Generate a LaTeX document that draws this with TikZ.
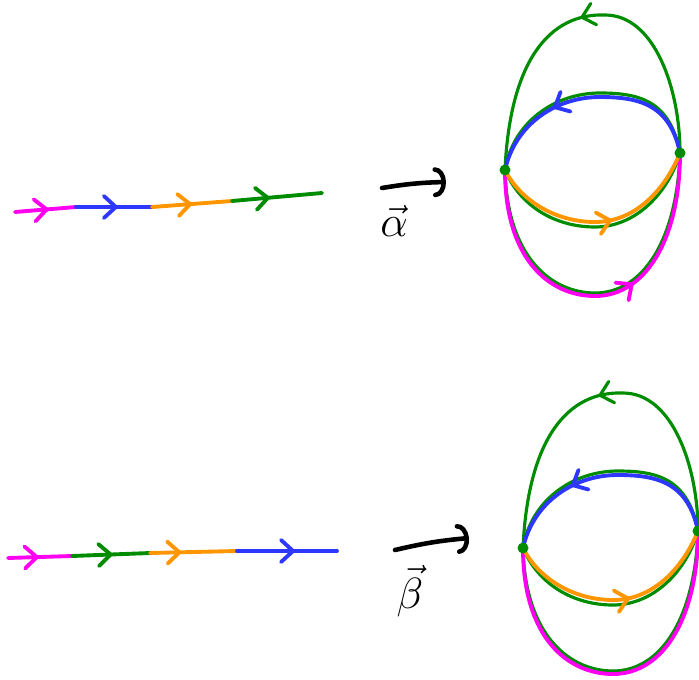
\documentclass[tikz,border=0pt]{standalone}
\usepackage{amsmath}
\usetikzlibrary{arrows.meta,decorations.markings}

\definecolor{pinkline}{RGB}{255,0,240}
\definecolor{blueline}{RGB}{45,55,255}
\definecolor{orangeline}{RGB}{255,150,0}
\definecolor{greenline}{RGB}{0,140,0}

\begin{document}
\begin{tikzpicture}[
  x=0.02cm, y=-0.02cm,
  strand/.style={line width=2.2pt, line cap=round},
  base/.style={line width=1.8pt, greenline, line cap=round},
  midarr/.style={postaction={decorate}, decoration={markings,
      mark=at position #1 with {\arrow{Straight Barb[length=2.4mm,width=4.4mm,round]}}}},
  maparr/.style={-{Arc Barb[length=2.2mm,width=6mm,round]}, line width=2.6pt, line cap=round},
  lbl/.style={font=\Huge},
]
\useasboundingbox (0,0) rectangle (699,679);

% top row: the path alpha
\coordinate (a0) at (15,212);
\coordinate (a1) at (76,207);
\coordinate (a2) at (152,207);
\coordinate (a3) at (232,201);
\coordinate (a4) at (322,193);
\draw[strand, pinkline, midarr=0.55] (a0) -- (a1);
\draw[strand, blueline, midarr=0.55] (a1) -- (a2);
\draw[strand, orangeline, midarr=0.5] (a2) -- (a3);
\draw[strand, greenline, midarr=0.42] (a3) -- (a4);

\coordinate (ma) at (382,188);
\coordinate (mb) at (446,182);
\draw[maparr] (ma) to[bend left=4] (mb);
\node[lbl] (alab) at (394,221) {$\vec{\alpha}$};

\begin{scope}
  \coordinate (tL) at (505,170);
  \coordinate (tR) at (680,153);
  % green underlay
  \draw[base, midarr=0.52] (tR) .. controls (680,90) and (655,15) .. (605,15)
    .. controls (550,13) and (510,60) .. (tL);
  \draw[base] (tL) .. controls (507,258) and (552,293) .. (595,293)
    .. controls (643,293) and (677,240) .. (tR);
  \draw[base] (tR) .. controls (670,101) and (640,93) .. (600,93)
    .. controls (555,93) and (513,122) .. (tL);
  \draw[base] (tL) .. controls (520,206) and (555,227) .. (595,227)
    .. controls (635,227) and (668,194) .. (tR);
  % coloured arcs
  \draw[strand, pinkline, midarr=0.6] (tL) .. controls (505,260) and (550,296) .. (595,296)
    .. controls (645,296) and (680,240) .. (tR);
  \draw[strand, blueline, midarr=0.66] (tR) .. controls (670,105) and (640,97) .. (600,97)
    .. controls (555,97) and (515,125) .. (tL);
  \draw[strand, orangeline, midarr=0.56] (tL) .. controls (520,200) and (555,222) .. (595,222)
    .. controls (635,222) and (665,190) .. (tR);
  \fill[greenline] (tL) circle (1.1mm);
  \fill[greenline] (tR) circle (1.1mm);
\end{scope}

% bottom row: the path beta
\coordinate (b0) at (8,558);
\coordinate (b1) at (72,556);
\coordinate (b2) at (150,553);
\coordinate (b3) at (237,551);
\coordinate (b4) at (337,551);
\draw[strand, pinkline, midarr=0.48] (b0) -- (b1);
\draw[strand, greenline, midarr=0.52] (b1) -- (b2);
\draw[strand, orangeline, midarr=0.36] (b2) -- (b3);
\draw[strand, blueline, midarr=0.58] (b3) -- (b4);

\coordinate (na) at (395,550);
\coordinate (nb) at (469,538);
\draw[maparr] (na) to[bend left=4] (nb);
\node[lbl] (blab) at (410,591) {$\vec{\beta}$};

\begin{scope}[shift={(18,378)}]
  \coordinate (bL) at (505,170);
  \coordinate (bR) at (680,153);
  % green underlay
  \draw[base, midarr=0.52] (bR) .. controls (680,90) and (655,15) .. (605,15)
    .. controls (550,13) and (510,60) .. (bL);
  \draw[base] (bL) .. controls (507,258) and (552,293) .. (595,293)
    .. controls (643,293) and (677,240) .. (bR);
  \draw[base] (bR) .. controls (670,101) and (640,93) .. (600,93)
    .. controls (555,93) and (513,122) .. (bL);
  \draw[base] (bL) .. controls (520,206) and (555,227) .. (595,227)
    .. controls (635,227) and (668,194) .. (bR);
  % coloured arcs
  \draw[strand, pinkline] (bL) .. controls (505,260) and (550,296) .. (595,296)
    .. controls (645,296) and (680,240) .. (bR);
  \draw[strand, blueline, midarr=0.66] (bR) .. controls (670,105) and (640,97) .. (600,97)
    .. controls (555,97) and (515,125) .. (bL);
  \draw[strand, orangeline, midarr=0.56] (bL) .. controls (520,200) and (555,222) .. (595,222)
    .. controls (635,222) and (665,190) .. (bR);
  \fill[greenline] (bL) circle (1.1mm);
  \fill[greenline] (bR) circle (1.1mm);
\end{scope}
\end{tikzpicture}
\end{document}
